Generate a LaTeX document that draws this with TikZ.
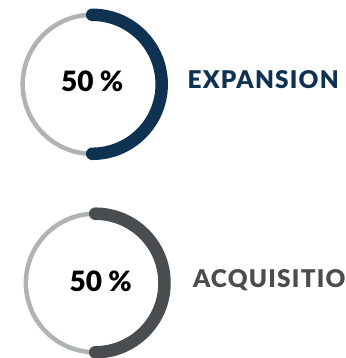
\documentclass[tikz,border=0pt]{standalone}
\usetikzlibrary{calc}
\usepackage{fontspec}
\setmainfont{Lato}[BoldFont={Lato Black}]
\newfontfamily\lblfont{Lato Black}[LetterSpace=5]
\definecolor{navy}{HTML}{0F3152}
\definecolor{ringgrey}{HTML}{B0B3B4}
\definecolor{darkgrey}{HTML}{4A4D4F}
\tikzset{
  basering/.style={draw=ringgrey, line width=4.5pt},
  valuearc/.style={line width=12.5pt, line cap=round},
  pct/.style={font=\bfseries\fontsize{28}{30}\selectfont, inner sep=0pt, anchor=base},
  lbl/.style={font=\lblfont\fontsize{24.4}{26}\selectfont, inner sep=0pt, anchor=base west}
}
\begin{document}
\begin{tikzpicture}[x=1pt,y=-1pt]
\useasboundingbox (0,0) rectangle (345,358);
\clip (0,0) rectangle (345,358);
% first gauge
\coordinate (c1) at (92.2,84.3);
\draw[basering] (c1) circle (69.5);
\draw[valuearc, draw=navy] ($(c1)+(0,-69.5)$) arc[start angle=-90, end angle=90, radius=69.5];
\node[pct] (p1) at (92.2,91.7) {50 \%};
\node[lbl, text=navy] (l1) at (187.5,88.3) {EXPANSION};
% second gauge
\coordinate (c2) at (95.2,283);
\draw[basering] (c2) circle (69.3);
\draw[valuearc, draw=darkgrey] ($(c2)+(0,-69.3)$) arc[start angle=-90, end angle=90, radius=69.3];
\node[pct] (p2) at (100.7,291) {50 \%};
\node[lbl, text=darkgrey] (l2) at (192.8,287.3) {ACQUISITION};
\end{tikzpicture}
\end{document}
